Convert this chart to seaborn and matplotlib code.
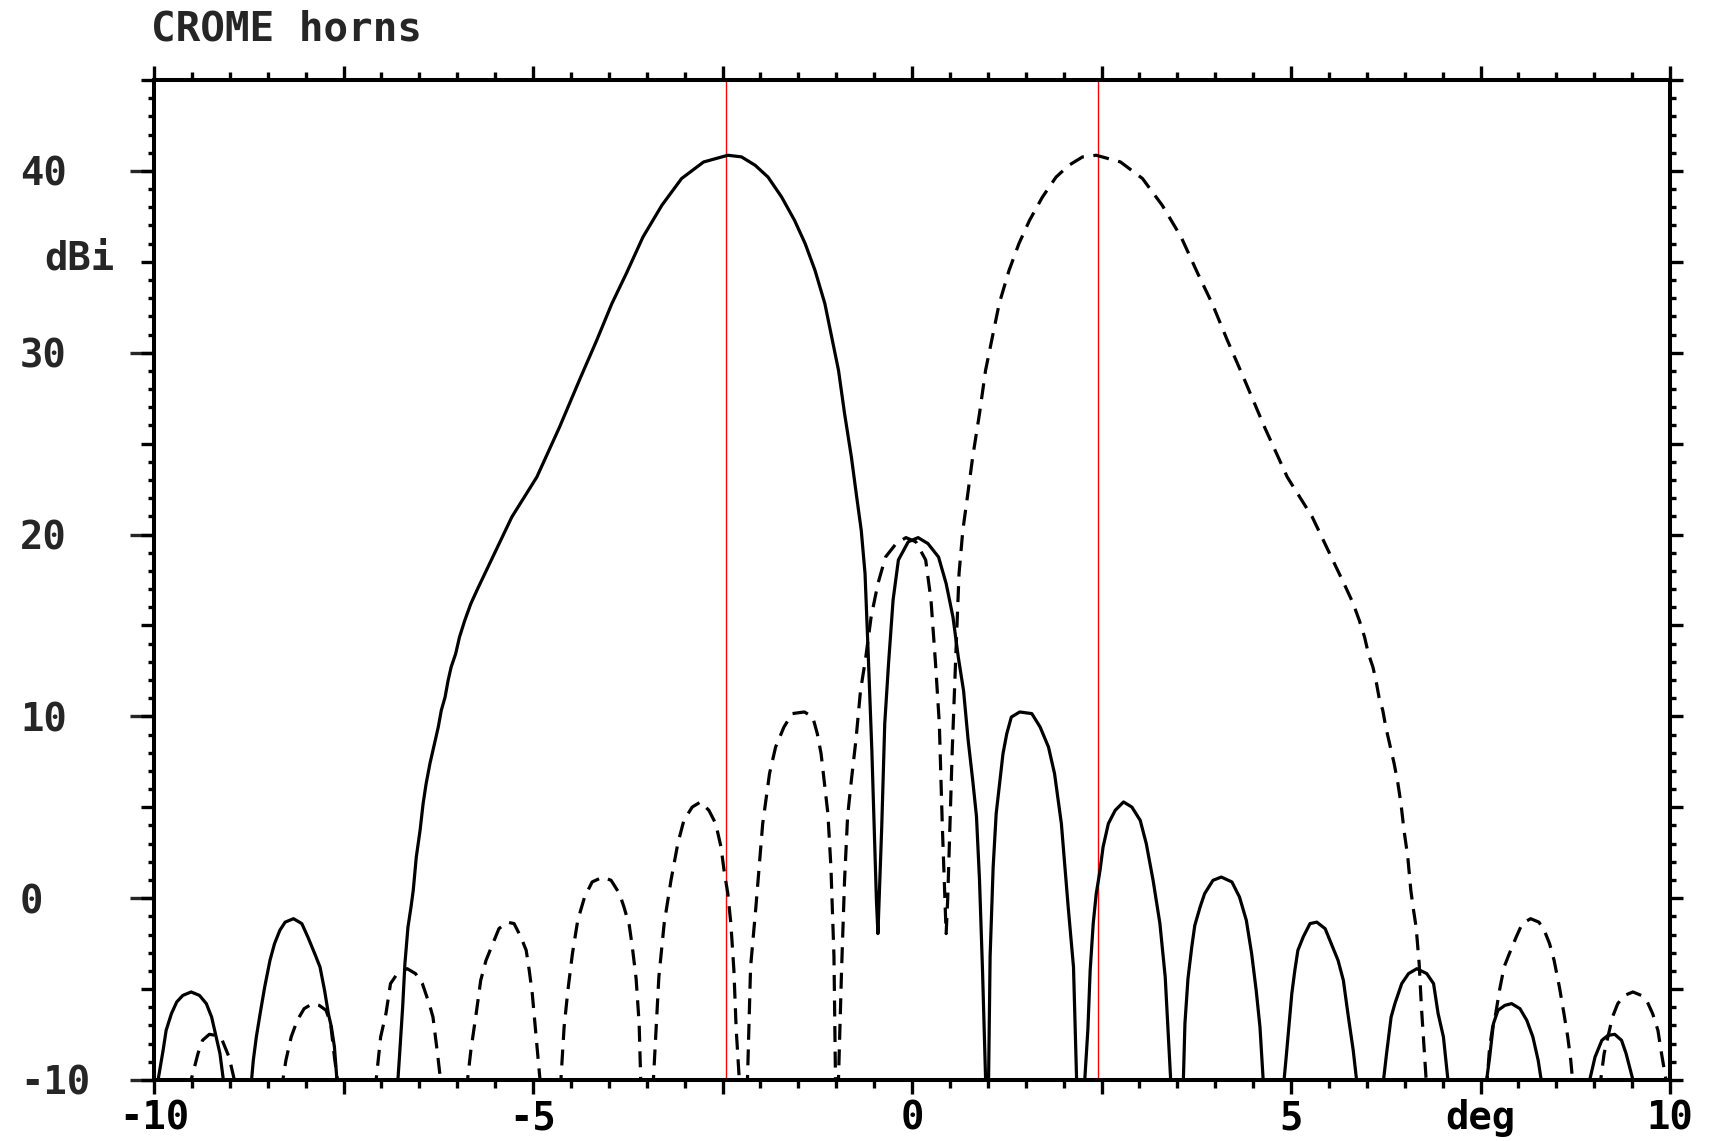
import numpy as np
import pandas as pd
import matplotlib
matplotlib.use("Agg")
import matplotlib.pyplot as plt
import matplotlib.transforms as mtransforms
import seaborn as sns

# beam A (solid), pointing to the left
beam_a_deg = [
    -9.97, -9.94, -9.88, -9.84, -9.77, -9.70, -9.62, -9.51, -9.40, -9.31, -9.24, -9.18, -9.13, -9.09, -8.90,
    -8.71, -8.69, -8.65, -8.60, -8.54, -8.47, -8.41, -8.34, -8.27, -8.16, -8.05, -7.97, -7.88, -7.81, -7.75,
    -7.70, -7.66, -7.62, -7.59, -7.18,
    -6.78, -6.76, -6.72, -6.69, -6.65, -6.61, -6.58, -6.54, -6.49, -6.45, -6.41, -6.36, -6.30, -6.25, -6.21,
    -6.16, -6.12, -6.08, -6.02, -5.97, -5.90, -5.82, -5.72, -5.50, -5.28, -4.95, -4.65, -4.38, -4.16, -3.96,
    -3.77, -3.55, -3.30, -3.04, -2.75, -2.43, -2.25, -2.07, -1.90, -1.72, -1.55, -1.41, -1.28, -1.15, -1.06,
    -0.97, -0.89, -0.80, -0.73, -0.67, -0.62, -0.58, -0.53, -0.47, -0.45,
    -0.40, -0.36, -0.31, -0.25, -0.18, -0.05, 0.08, 0.21, 0.35, 0.45, 0.54, 0.61, 0.68, 0.74, 0.80,
    0.85, 0.89, 0.93, 0.97, 0.99,
    1.01, 1.03, 1.07, 1.11, 1.16, 1.20, 1.25, 1.31, 1.42, 1.58, 1.69, 1.80, 1.88, 1.97, 2.06, 2.13, 2.17, 2.22,
    2.28, 2.32, 2.35, 2.39, 2.43, 2.48, 2.52, 2.59, 2.68, 2.79, 2.90, 3.01, 3.09, 3.18, 3.27, 3.34, 3.41, 3.50,
    3.58, 3.60, 3.64, 3.69, 3.73, 3.80, 3.86, 3.97, 4.08, 4.22, 4.32, 4.41, 4.48, 4.54, 4.59, 4.63, 4.77,
    4.91, 4.94, 5.01, 5.05, 5.09, 5.16, 5.25, 5.34, 5.45, 5.53, 5.62, 5.69, 5.75, 5.82, 5.86, 6.04,
    6.22, 6.26, 6.32, 6.37, 6.46, 6.55, 6.66, 6.79, 6.88, 6.94, 7.01, 7.07, 7.32,
    7.58, 7.62, 7.67, 7.73, 7.82, 7.91, 8.02, 8.11, 8.19, 8.26, 8.30, 8.62,
    8.94, 9.01, 9.10, 9.18, 9.27, 9.36, 9.42, 9.51, 9.75,
]
beam_a_dbi = [
    -11.5, -9.84, -8.37, -7.27, -6.35, -5.71, -5.35, -5.16, -5.35, -5.8, -6.54, -7.63, -8.55, -9.84, -20,
    -9.84, -8.92, -7.63, -6.35, -4.89, -3.42, -2.5, -1.77, -1.32, -1.13, -1.4, -2.14, -3.05, -3.79, -5.07,
    -6.35, -7.09, -8.18, -9.84, -20,
    -9.84, -8.6, -6.0, -3.6, -1.6, -0.5, 0.43, 2.26, 3.73, 5.2, 6.3, 7.4, 8.5, 9.41, 10.33,
    11.06, 11.98, 12.71, 13.45, 14.36, 15.28, 16.2, 17.11, 19.04, 20.96, 23.16, 25.91, 28.57, 30.68, 32.7,
    34.35, 36.36, 38.11, 39.58, 40.49, 40.86, 40.77, 40.31, 39.66, 38.56, 37.28, 36.0, 34.53, 32.7, 30.86,
    29.03, 26.65, 24.26, 22.06, 20.23, 17.85, 13.63, 8.1, -0.1, -1.95,
    3.9, 9.6, 12.9, 16.4, 18.6, 19.6, 19.83, 19.5, 18.76, 17.3, 15.46, 13.26, 11.4, 8.7, 6.5,
    4.5, 1.0, -4.0, -9.9, -20,
    -9.9, -3.2, 1.7, 4.65, 6.48, 7.95, 9.05, 9.96, 10.24, 10.15, 9.41, 8.31, 6.85, 4.1, -0.49, -3.79, -9.84, -20,
    -9.9, -7.2, -3.97, -1.4, 0.25, 1.53, 2.81, 4.1, 4.83, 5.29, 5.01, 4.28, 3.0, 0.98, -1.4, -4.34, -9.84, -20,
    -9.9, -6.9, -4.43, -2.69, -1.5, -0.49, 0.25, 0.98, 1.16, 0.89, 0.06, -1.22, -3.05, -5.07, -7.09, -9.84, -20,
    -9.9, -8.55, -5.25, -3.97, -2.87, -2.14, -1.4, -1.32, -1.68, -2.5, -3.42, -4.52, -6.35, -8.37, -9.84, -20,
    -10, -8.55, -6.54, -5.8, -4.7, -4.15, -3.88, -4.15, -4.7, -6.35, -7.63, -10, -20,
    -10, -8.74, -6.9, -6.17, -5.9, -5.8, -6.08, -6.72, -7.63, -8.92, -10, -20,
    -10, -8.74, -7.82, -7.55, -7.49, -7.82, -8.55, -10, -20,
]

# beam B (dashed), pointing to the right
beam_b_deg = [
    -9.75, -9.51, -9.42, -9.36, -9.27, -9.18, -9.10, -9.01, -8.94,
    -8.62, -8.30, -8.26, -8.19, -8.11, -8.02, -7.91, -7.82, -7.73, -7.67, -7.62, -7.58,
    -7.32, -7.07, -7.01, -6.94, -6.88, -6.79, -6.66, -6.55, -6.46, -6.37, -6.32, -6.26, -6.22,
    -6.04, -5.86, -5.82, -5.75, -5.69, -5.62, -5.53, -5.45, -5.34, -5.25, -5.16, -5.09, -5.05, -5.01, -4.94, -4.91,
    -4.77, -4.63, -4.59, -4.54, -4.48, -4.41, -4.32, -4.22, -4.08, -3.97, -3.86, -3.80, -3.73, -3.69, -3.64, -3.60, -3.58,
    -3.50, -3.41, -3.34, -3.27, -3.18, -3.09, -3.01, -2.90, -2.79, -2.68, -2.59, -2.52, -2.48, -2.43, -2.39, -2.35, -2.32, -2.28,
    -2.22, -2.17, -2.13, -2.06, -1.97, -1.88, -1.80, -1.69, -1.58, -1.42, -1.31, -1.25, -1.20, -1.16, -1.11, -1.07, -1.03, -1.01,
    -0.99, -0.97, -0.93, -0.89, -0.85,
    -0.80, -0.74, -0.68, -0.61, -0.54, -0.45, -0.35, -0.21, -0.08, 0.05, 0.18, 0.25, 0.31, 0.36, 0.40,
    0.45, 0.47, 0.53, 0.58, 0.62, 0.67, 0.73, 0.80, 0.89, 0.97,
    1.06, 1.15, 1.28, 1.41, 1.55, 1.72, 1.90, 2.07, 2.25, 2.43, 2.75, 3.04, 3.30, 3.55, 3.77,
    3.96, 4.16, 4.38, 4.65, 4.95, 5.28, 5.50, 5.72, 5.82, 5.90, 5.97, 6.02, 6.08, 6.12, 6.16,
    6.21, 6.25, 6.30, 6.36, 6.41, 6.45, 6.49, 6.54, 6.58, 6.61, 6.65, 6.69, 6.72, 6.76, 6.78,
    7.18, 7.59, 7.62, 7.66, 7.70, 7.75, 7.81, 7.88, 7.97, 8.05, 8.16, 8.27, 8.34, 8.41, 8.47,
    8.54, 8.60, 8.65, 8.69, 8.71,
    8.90, 9.09, 9.13, 9.18, 9.24, 9.31, 9.40, 9.51, 9.62, 9.70, 9.77, 9.84, 9.88, 9.94, 9.97,
]
beam_b_dbi = [
    -20, -10, -8.55, -7.82, -7.49, -7.55, -7.82, -8.74, -10,
    -20, -10, -8.92, -7.63, -6.72, -6.08, -5.8, -5.9, -6.17, -6.9, -8.74, -10,
    -20, -10, -7.63, -6.35, -4.7, -4.15, -3.88, -4.15, -4.7, -5.8, -6.54, -8.55, -10,
    -20, -9.84, -8.37, -6.35, -4.52, -3.42, -2.5, -1.68, -1.32, -1.4, -2.14, -2.87, -3.97, -5.25, -8.55, -9.9,
    -20, -9.84, -7.09, -5.07, -3.05, -1.22, 0.06, 0.89, 1.16, 0.98, 0.25, -0.49, -1.5, -2.69, -4.43, -6.9, -9.9,
    -20, -9.84, -4.34, -1.4, 0.98, 3.0, 4.28, 5.01, 5.29, 4.83, 4.1, 2.81, 1.53, 0.25, -1.4, -3.97, -7.2, -9.9,
    -20, -9.84, -3.79, -0.49, 4.1, 6.85, 8.31, 9.41, 10.15, 10.24, 9.96, 9.05, 7.95, 6.48, 4.65, 1.7, -3.2, -9.9,
    -20, -9.9, -4.0, 1.0, 4.5,
    6.5, 8.7, 11.4, 13.26, 15.46, 17.3, 18.76, 19.5, 19.83, 19.6, 18.6, 16.4, 12.9, 9.6, 3.9,
    -1.95, -0.1, 8.1, 13.63, 17.85, 20.23, 22.06, 24.26, 26.65, 29.03,
    30.86, 32.7, 34.53, 36.0, 37.28, 38.56, 39.66, 40.31, 40.77, 40.86, 40.49, 39.58, 38.11, 36.36, 34.35,
    32.7, 30.68, 28.57, 25.91, 23.16, 20.96, 19.04, 17.11, 16.2, 15.28, 14.36, 13.45, 12.71, 11.98, 11.06,
    10.33, 9.41, 8.5, 7.4, 6.3, 5.2, 3.73, 2.26, 0.43, -0.5, -1.6, -3.6, -6.0, -8.6, -9.84,
    -20, -9.84, -8.18, -7.09, -6.35, -5.07, -3.79, -3.05, -2.14, -1.4, -1.13, -1.32, -1.77, -2.5, -3.42,
    -4.89, -6.35, -7.63, -8.92, -9.84,
    -20, -9.84, -8.55, -7.63, -6.54, -5.8, -5.35, -5.16, -5.35, -5.71, -6.35, -7.27, -8.37, -9.84, -11.5,
]

beam_centres = [-2.45, 2.45]
x_tick_values = [-10, -7.5, -5, -2.5, 0, 2.5, 5, 7.5, 10]
x_tick_labels = ["-10", "", "-5", "", "0", "", "5", "deg", "10"]
y_label_values = [-10, 0, 10, 20, 30, 40]
y_label_texts = ["-10", "0", "10", "20", "30", "40"]

df = pd.concat([
    pd.DataFrame({"deg": beam_a_deg, "dBi": beam_a_dbi, "beam": "A"}),
    pd.DataFrame({"deg": beam_b_deg, "dBi": beam_b_dbi, "beam": "B"}),
])

sns.set_style("white")
plt.rcParams["font.family"] = ["DejaVu Sans Mono"]
plt.rcParams["font.weight"] = "bold"

fig = plt.figure(figsize=(17.15, 11.41), dpi=100)
ax = fig.add_axes([0.0898, 0.0535, 0.884, 0.8764])

sns.lineplot(data=df, x="deg", y="dBi", style="beam", dashes={"A": "", "B": (5, 3)},
             color="black", linewidth=2.3, estimator=None, sort=False, legend=False, ax=ax)

for c in beam_centres:
    ax.axvline(c, color="red", linewidth=1.0, zorder=1)

ax.set_xlim(-10, 10)
ax.set_ylim(-10, 45)
ax.set_xlabel("")
ax.set_ylabel("")

for s in ax.spines.values():
    s.set_visible(True)
    s.set_color("black")
    s.set_linewidth(2.9)

# x ticks
ax.set_xticks(x_tick_values)
ax.set_xticklabels(x_tick_labels, fontsize=28, fontweight="bold")
ax.set_xticks(np.arange(-10, 10.01, 0.5), minor=True)
ax.tick_params(axis="x", which="major", direction="out", top=True, bottom=True,
               length=10, width=2.4, pad=4, colors="black")
ax.tick_params(axis="x", which="minor", direction="out", top=True, bottom=True,
               length=5.5, width=2.4, colors="black")

# y ticks: every 5 (medium) and every 1 (minor), labels on a secondary axis
ax.set_yticks(np.arange(-10, 45.01, 5))
ax.set_yticklabels([])
ax.set_yticks(np.arange(-10, 45.01, 1), minor=True)
ax.tick_params(axis="y", which="major", direction="out", left=True, right=True,
               length=9.5, width=2.4, colors="black")
ax.tick_params(axis="y", which="minor", direction="out", left=True, right=True,
               length=4.5, width=2.4, colors="black")

sec = ax.secondary_yaxis("left")
sec.set_yticks(y_label_values)
sec.set_yticklabels(y_label_texts, fontsize=28, fontweight="bold")
sec.tick_params(axis="y", which="major", direction="out", length=17, width=2.4, pad=79.5)
sec.tick_params(axis="y", which="minor", length=0)
sec.spines["left"].set_visible(False)
for lab in sec.get_yticklabels():
    lab.set_horizontalalignment("left")

trans = mtransforms.blended_transform_factory(ax.transAxes, ax.transData)
ax.text(-0.0727, 35.2, "dBi", transform=trans, ha="left", va="center",
        fontsize=28, fontweight="bold")

fig.text(0.088, 0.975, "CROME horns", ha="left", va="center", fontsize=29.5, fontweight="bold")

fig.savefig("out.png", dpi=100, facecolor="white")
